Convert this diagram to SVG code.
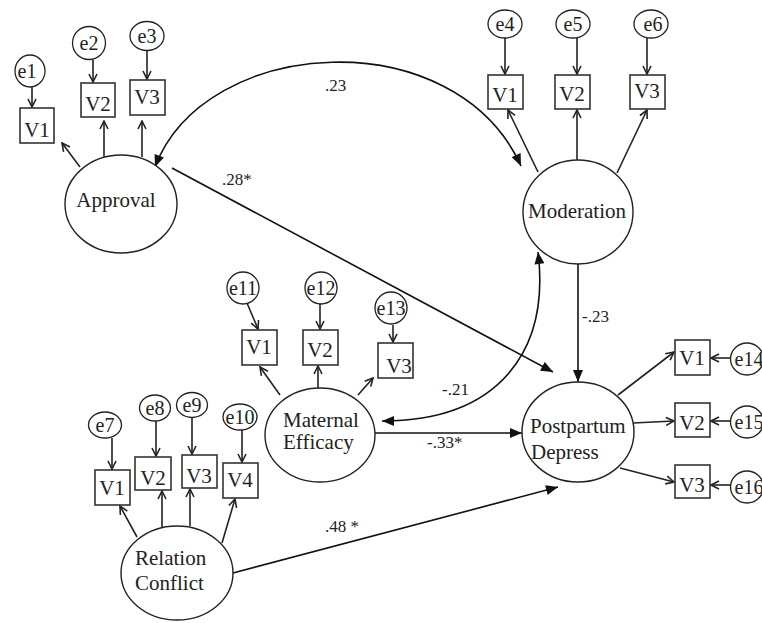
<svg xmlns="http://www.w3.org/2000/svg" width="762" height="623" viewBox="0 0 762 623">
<style>
.bg{fill:#fff}
.lat{fill:#fff;stroke:#222;stroke-width:1.4}
.box{fill:#fff;stroke:#333;stroke-width:1.6}
.err{fill:#fff;stroke:#222;stroke-width:1.3}
text{font-family:"Liberation Serif","Times New Roman",serif;fill:#222}
.nt{font-size:21px}
.vt{font-size:21px;text-anchor:middle}
.et{font-size:20px;text-anchor:middle}
.cl{font-size:17px}
.ind{stroke:#222;stroke-width:1.6;fill:none;marker-end:url(#open)}
.str{stroke:#111;stroke-width:1.6;fill:none;marker-end:url(#solid)}
.cov{stroke:#111;stroke-width:1.6;fill:none;marker-start:url(#solid);marker-end:url(#solid)}
</style>
<defs>
<marker id="open" viewBox="0 0 10 10" refX="9" refY="5" markerWidth="10" markerHeight="10" markerUnits="userSpaceOnUse" orient="auto-start-reverse">
<path d="M1,1 L9,5 L1,9" fill="none" stroke="#222" stroke-width="1.6"/>
</marker>
<marker id="solid" viewBox="0 0 12 10" refX="12" refY="5" markerWidth="13" markerHeight="10" markerUnits="userSpaceOnUse" orient="auto-start-reverse">
<path d="M0,0 L12,5 L0,10 z" fill="#111"/>
</marker>
</defs>
<rect class="bg" x="0" y="0" width="762" height="623"/>

<g id="connectors">
<path class="cov" d="M155,167 C205,35 455,20 521,166"/>
<path class="cov" d="M382,421 C500,421 550,350 538,252"/>
<line class="str" x1="172" y1="168" x2="553" y2="372"/>
<line class="str" x1="578" y1="264" x2="578" y2="382"/>
<line class="str" x1="375" y1="433" x2="522" y2="433"/>
<line class="str" x1="233" y1="573" x2="558" y2="487"/>
<line class="ind" x1="32" y1="87" x2="32" y2="107"/>
<line class="ind" x1="93" y1="60" x2="93" y2="82"/>
<line class="ind" x1="147" y1="50" x2="147" y2="79"/>
<line class="ind" x1="80" y1="167" x2="62" y2="143"/>
<line class="ind" x1="104" y1="157" x2="104" y2="121"/>
<line class="ind" x1="142" y1="157" x2="142" y2="121"/>
<line class="ind" x1="505" y1="38" x2="505" y2="74"/>
<line class="ind" x1="577" y1="38" x2="577" y2="74"/>
<line class="ind" x1="647" y1="38" x2="647" y2="74"/>
<line class="ind" x1="538" y1="172" x2="508" y2="110"/>
<line class="ind" x1="577" y1="160" x2="577" y2="110"/>
<line class="ind" x1="617" y1="173" x2="647" y2="110"/>
<line class="ind" x1="247" y1="303" x2="258" y2="329"/>
<line class="ind" x1="320" y1="304" x2="320" y2="329"/>
<line class="ind" x1="393" y1="325" x2="393" y2="342"/>
<line class="ind" x1="280" y1="395" x2="260" y2="367"/>
<line class="ind" x1="318" y1="388" x2="318" y2="366"/>
<line class="ind" x1="358" y1="395" x2="373" y2="378"/>
<line class="ind" x1="112" y1="438" x2="112" y2="469"/>
<line class="ind" x1="156" y1="420" x2="156" y2="456"/>
<line class="ind" x1="192" y1="418" x2="192" y2="454"/>
<line class="ind" x1="242" y1="430" x2="242" y2="462"/>
<line class="ind" x1="137" y1="537" x2="120" y2="506"/>
<line class="ind" x1="162" y1="527" x2="162" y2="491"/>
<line class="ind" x1="190" y1="526" x2="190" y2="489"/>
<line class="ind" x1="222" y1="543" x2="235" y2="499"/>
<line class="ind" x1="618" y1="395" x2="674" y2="352"/>
<line class="ind" x1="633" y1="423" x2="674" y2="421"/>
<line class="ind" x1="620" y1="468" x2="674" y2="482"/>
<line class="ind" x1="730" y1="358" x2="711" y2="358"/>
<line class="ind" x1="730" y1="421" x2="711" y2="421"/>
<line class="ind" x1="730" y1="485" x2="711" y2="485"/>
<text class="cl" x="325" y="91">.23</text>
<text class="cl" x="222" y="185">.28*</text>
<text class="cl" x="582" y="322">-.23</text>
<text class="cl" x="442" y="395">-.21</text>
<text class="cl" x="427" y="448">-.33*</text>
<text class="cl" x="325" y="532">.48 *</text>
</g>

<g id="approval">
<ellipse class="lat" cx="121" cy="204" rx="56" ry="49"/>
<text class="nt" x="116" y="207" text-anchor="middle">Approval</text>
</g>
<g id="approval-v1"><rect class="box" x="20" y="108" width="34" height="35"/><text class="vt" x="37" y="137">V1</text></g>
<g id="approval-v2"><rect class="box" x="81" y="83" width="34" height="34"/><text class="vt" x="98" y="111">V2</text></g>
<g id="approval-v3"><rect class="box" x="130" y="80" width="35" height="35"/><text class="vt" x="147" y="104">V3</text></g>
<g id="e1"><ellipse class="err" cx="30" cy="71" rx="15" ry="16"/><text class="et" x="27" y="78">e1</text></g>
<g id="e2"><ellipse class="err" cx="89" cy="43" rx="16.5" ry="16.5"/><text class="et" x="89" y="50">e2</text></g>
<g id="e3"><ellipse class="err" cx="147" cy="36" rx="17" ry="14.5"/><text class="et" x="147" y="43">e3</text></g>

<g id="moderation">
<ellipse class="lat" cx="578" cy="212" rx="55" ry="52"/>
<text class="nt" x="577" y="218" text-anchor="middle">Moderation</text>
</g>
<g id="moderation-v1"><rect class="box" x="488" y="75" width="35" height="34"/><text class="vt" x="505" y="102">V1</text></g>
<g id="moderation-v2"><rect class="box" x="555" y="75" width="35" height="34"/><text class="vt" x="572" y="101">V2</text></g>
<g id="moderation-v3"><rect class="box" x="630" y="75" width="35" height="34"/><text class="vt" x="647" y="98">V3</text></g>
<g id="e4"><ellipse class="err" cx="505" cy="24" rx="17" ry="14"/><text class="et" x="505" y="31">e4</text></g>
<g id="e5"><ellipse class="err" cx="573" cy="24" rx="17" ry="14"/><text class="et" x="573" y="31">e5</text></g>
<g id="e6"><ellipse class="err" cx="651" cy="24" rx="17" ry="14"/><text class="et" x="653" y="31">e6</text></g>

<g id="maternal-efficacy">
<ellipse class="lat" cx="320" cy="435" rx="55" ry="47"/>
<text class="nt" x="283" y="427">Maternal</text>
<text class="nt" x="283" y="449">Efficacy</text>
</g>
<g id="me-v1"><rect class="box" x="242" y="330" width="35" height="35"/><text class="vt" x="259" y="354">V1</text></g>
<g id="me-v2"><rect class="box" x="303" y="330" width="35" height="35"/><text class="vt" x="320" y="357">V2</text></g>
<g id="me-v3"><rect class="box" x="378" y="343" width="35" height="35"/><text class="vt" x="399" y="373">V3</text></g>
<g id="e11"><ellipse class="err" cx="243" cy="288" rx="16" ry="16"/><text class="et" x="243" y="295">e11</text></g>
<g id="e12"><ellipse class="err" cx="321" cy="288" rx="16" ry="16"/><text class="et" x="321" y="295">e12</text></g>
<g id="e13"><ellipse class="err" cx="391" cy="308" rx="16" ry="16"/><text class="et" x="391" y="315">e13</text></g>

<g id="relation-conflict">
<ellipse class="lat" cx="177" cy="573" rx="56" ry="47"/>
<text class="nt" x="135" y="565">Relation</text>
<text class="nt" x="135" y="590">Conflict</text>
</g>
<g id="rc-v1"><rect class="box" x="95" y="470" width="35" height="35"/><text class="vt" x="112" y="495">V1</text></g>
<g id="rc-v2"><rect class="box" x="135" y="457" width="36" height="33"/><text class="vt" x="153" y="485">V2</text></g>
<g id="rc-v3"><rect class="box" x="182" y="455" width="35" height="33"/><text class="vt" x="199" y="483">V3</text></g>
<g id="rc-v4"><rect class="box" x="223" y="463" width="35" height="35"/><text class="vt" x="240" y="487">V4</text></g>
<g id="e7"><ellipse class="err" cx="105" cy="425" rx="16.5" ry="13"/><text class="et" x="105" y="432">e7</text></g>
<g id="e8"><ellipse class="err" cx="155" cy="408" rx="15.5" ry="13"/><text class="et" x="155" y="415">e8</text></g>
<g id="e9"><ellipse class="err" cx="192" cy="405" rx="15.5" ry="12.5"/><text class="et" x="192" y="412">e9</text></g>
<g id="e10"><ellipse class="err" cx="240" cy="417" rx="17" ry="13"/><text class="et" x="240" y="424">e10</text></g>

<g id="postpartum-depress">
<ellipse class="lat" cx="578" cy="432" rx="56" ry="50"/>
<text class="nt" x="530" y="433">Postpartum</text>
<text class="nt" x="531" y="459">Depress</text>
</g>
<g id="pd-v1"><rect class="box" x="675" y="340" width="35" height="35"/><text class="vt" x="692" y="365">V1</text></g>
<g id="pd-v2"><rect class="box" x="675" y="403" width="35" height="34"/><text class="vt" x="692" y="430">V2</text></g>
<g id="pd-v3"><rect class="box" x="675" y="465" width="35" height="33"/><text class="vt" x="692" y="492">V3</text></g>
<g id="e14"><ellipse class="err" cx="747" cy="359" rx="16.5" ry="16"/><text class="et" x="749" y="366">e14</text></g>
<g id="e15"><ellipse class="err" cx="747" cy="422" rx="16.5" ry="16"/><text class="et" x="749" y="429">e15</text></g>
<g id="e16"><ellipse class="err" cx="747" cy="487" rx="16.5" ry="16"/><text class="et" x="749" y="494">e16</text></g>
</svg>
